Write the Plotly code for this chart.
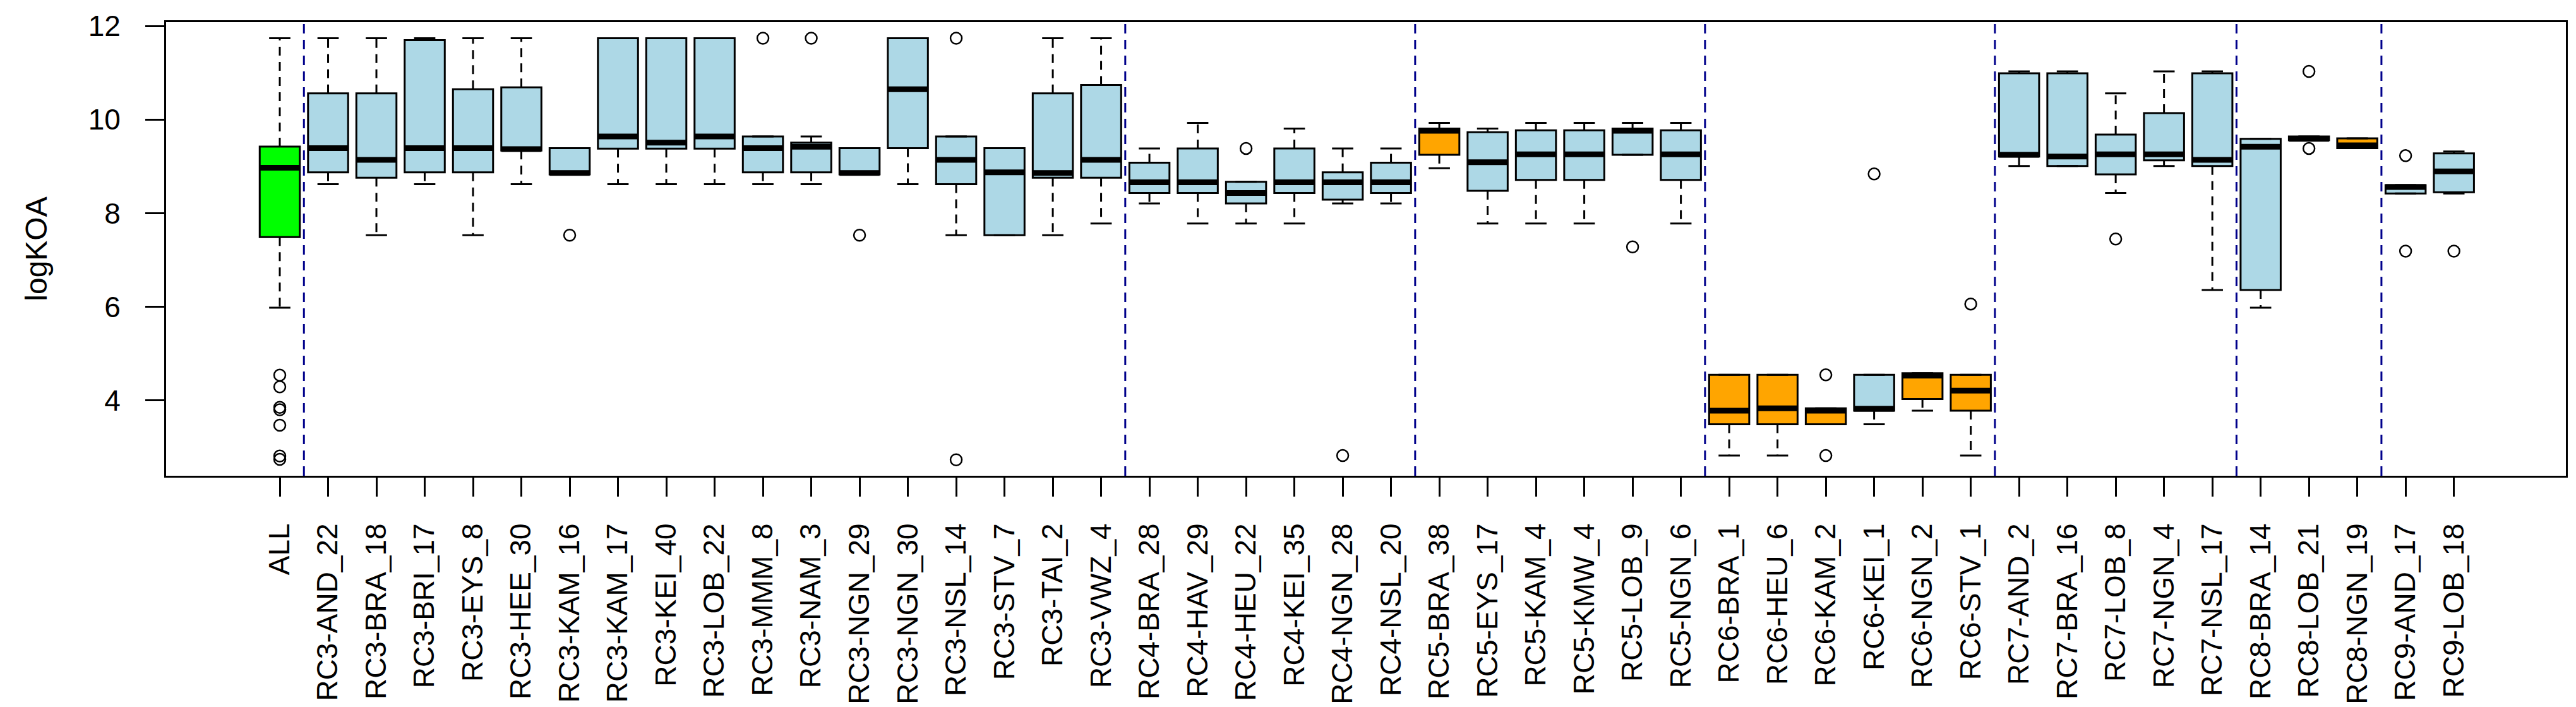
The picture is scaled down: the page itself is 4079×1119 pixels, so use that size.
import plotly.graph_objects as go

categories = ["ALL",
    "RC3-AND_22", "RC3-BRA_18", "RC3-BRI_17", "RC3-EYS_8", "RC3-HEE_30", "RC3-KAM_16",
    "RC3-KAM_17", "RC3-KEI_40", "RC3-LOB_22", "RC3-MMM_8", "RC3-NAM_3", "RC3-NGN_29",
    "RC3-NGN_30", "RC3-NSL_14", "RC3-STV_7", "RC3-TAI_2", "RC3-VWZ_4",
    "RC4-BRA_28", "RC4-HAV_29", "RC4-HEU_22", "RC4-KEI_35", "RC4-NGN_28", "RC4-NSL_20",
    "RC5-BRA_38", "RC5-EYS_17", "RC5-KAM_4", "RC5-KMW_4", "RC5-LOB_9", "RC5-NGN_6",
    "RC6-BRA_1", "RC6-HEU_6", "RC6-KAM_2", "RC6-KEI_1", "RC6-NGN_2", "RC6-STV_1",
    "RC7-AND_2", "RC7-BRA_16", "RC7-LOB_8", "RC7-NGN_4", "RC7-NSL_17",
    "RC8-BRA_14", "RC8-LOB_21", "RC8-NGN_19",
    "RC9-AND_17", "RC9-LOB_18"]

lower_whisker = [5.98,
    8.62, 7.53, 8.62, 7.53, 8.62, 8.83, 8.62, 8.62, 8.62, 8.62, 8.62, 8.83, 8.62, 7.53, 7.53, 7.53, 7.78,
    8.21, 7.78, 7.78, 7.78, 8.21, 8.21,
    8.96, 7.78, 7.78, 7.78, 9.25, 7.78,
    2.82, 2.82, 3.49, 3.49, 3.78, 2.82,
    9.01, 9.01, 8.43, 9.01, 6.36,
    5.98, 9.56, 9.39,
    8.42, 8.42]
q1 = [7.49,
    8.875, 8.76, 8.875, 8.875, 9.34, 8.83, 9.38, 9.38, 9.38, 8.875, 8.875, 8.83, 9.39, 8.62, 7.53, 8.76, 8.76,
    8.43, 8.43, 8.21, 8.43, 8.29, 8.43,
    9.25, 8.48, 8.71, 8.71, 9.25, 8.71,
    3.49, 3.49, 3.49, 3.78, 4.03, 3.78,
    9.21, 9.01, 8.83, 9.13, 9.01,
    6.36, 9.56, 9.39,
    8.42, 8.45]
median = [8.97,
    9.39, 9.14, 9.39, 9.39, 9.37, 8.86, 9.64, 9.51, 9.64, 9.39, 9.42, 8.86, 10.65, 9.14, 8.875, 8.86, 9.14,
    8.66, 8.66, 8.43, 8.66, 8.66, 8.66,
    9.76, 9.09, 9.26, 9.26, 9.76, 9.26,
    3.78, 3.83, 3.78, 3.82, 4.53, 4.21,
    9.25, 9.21, 9.26, 9.26, 9.14,
    9.42, 9.59, 9.45,
    8.56, 8.895]
q3 = [9.425,
    10.56, 10.56, 11.70, 10.65, 10.69, 9.39, 11.74, 11.74, 11.74, 9.64, 9.51, 9.39, 11.74, 9.64, 9.39, 10.56, 10.74,
    9.08, 9.385, 8.67, 9.385, 8.875, 9.08,
    9.81, 9.73, 9.77, 9.77, 9.81, 9.77,
    4.545, 4.545, 3.83, 4.545, 4.58, 4.545,
    10.99, 10.99, 9.68, 10.14, 10.99,
    9.59, 9.64, 9.60,
    8.60, 9.28]
upper_whisker = [11.74,
    11.74, 11.74, 11.74, 11.74, 11.74, 9.39, 11.74, 11.74, 11.74, 9.64, 9.64, 9.39, 11.74, 9.64, 9.39, 11.74, 11.74,
    9.385, 9.93, 8.67, 9.81, 9.385, 9.385,
    9.93, 9.81, 9.93, 9.93, 9.93, 9.93,
    4.545, 4.545, 3.83, 4.545, 4.58, 4.545,
    11.03, 11.03, 10.56, 11.03, 11.03,
    9.59, 9.64, 9.60,
    8.60, 9.32]
outliers = {
    "ALL": [4.54, 4.29, 3.85, 3.80, 3.47, 2.81, 2.74],
    "RC3-KAM_16": [7.53],
    "RC3-MMM_8": [11.74],
    "RC3-NAM_3": [11.74],
    "RC3-NGN_29": [7.53],
    "RC3-NSL_14": [11.74, 2.73],
    "RC4-HEU_22": [9.385],
    "RC4-NGN_28": [2.82],
    "RC5-LOB_9": [7.28],
    "RC6-KAM_2": [4.545, 2.82],
    "RC6-KEI_1": [8.84],
    "RC6-STV_1": [6.06],
    "RC7-LOB_8": [7.45],
    "RC8-LOB_21": [11.03, 9.385],
    "RC9-AND_17": [9.23, 7.19],
    "RC9-LOB_18": [7.19],
}
highlight_all = ["ALL"]
highlight_orange = ["RC5-BRA_38", "RC6-BRA_1", "RC6-HEU_6", "RC6-KAM_2", "RC6-NGN_2", "RC6-STV_1", "RC8-NGN_19"]
y_ticks = [4, 6, 8, 10, 12]

FONT = "Liberation Sans, Arial, Helvetica, sans-serif"
BOXW = 0.83
CAPW = 0.44
positions = list(range(1, len(categories) + 1))

def color_of(c):
    if c in highlight_all:
        return "#00FF00"
    if c in highlight_orange:
        return "#FFA500"
    return "#ADD8E6"

fig = go.Figure()

# boxes per fill color
for col in ["#00FF00", "#ADD8E6", "#FFA500"]:
    idx = [i for i, c in enumerate(categories) if color_of(c) == col]
    fig.add_trace(go.Box(
        x=[positions[i] for i in idx],
        q1=[q1[i] for i in idx], median=[median[i] for i in idx], q3=[q3[i] for i in idx],
        lowerfence=[q1[i] for i in idx], upperfence=[q3[i] for i in idx],
        width=BOXW, whiskerwidth=0, boxpoints=False,
        fillcolor=col, line=dict(color="black", width=3),
        showlegend=False, hoverinfo="skip"))

# whiskers (dashed)
wx, wy = [], []
for p, lo, a, b, hi in zip(positions, lower_whisker, q1, q3, upper_whisker):
    if hi > b:
        wx += [p, p, None]; wy += [b, hi, None]
    if lo < a:
        wx += [p, p, None]; wy += [a, lo, None]
fig.add_trace(go.Scatter(x=wx, y=wy, mode="lines",
    line=dict(color="black", width=3, dash="14px,10px"), showlegend=False, hoverinfo="skip"))

# staples
sx, sy = [], []
for p, lo, hi in zip(positions, lower_whisker, upper_whisker):
    for v in (lo, hi):
        sx += [p - CAPW / 2, p + CAPW / 2, None]; sy += [v, v, None]
fig.add_trace(go.Scatter(x=sx, y=sy, mode="lines",
    line=dict(color="black", width=3), showlegend=False, hoverinfo="skip"))

# medians (thick)
mx, my = [], []
for p, m in zip(positions, median):
    mx += [p - BOXW / 2, p + BOXW / 2, None]; my += [m, m, None]
fig.add_trace(go.Scatter(x=mx, y=my, mode="lines",
    line=dict(color="black", width=9), showlegend=False, hoverinfo="skip"))

# outliers
ox, oy = [], []
for c, vals in outliers.items():
    p = positions[categories.index(c)]
    for v in vals:
        ox.append(p); oy.append(v)
fig.add_trace(go.Scatter(x=ox, y=oy, mode="markers",
    marker=dict(symbol="circle-open", size=18, color="black", line=dict(width=2.5)),
    showlegend=False, hoverinfo="skip"))

# group separators
for i in range(1, len(categories)):
    if categories[i].split("-")[0] != categories[i - 1].split("-")[0]:
        fig.add_shape(type="line", xref="x", yref="paper",
                      x0=positions[i] - 0.5, x1=positions[i] - 0.5, y0=0, y1=1,
                      line=dict(color="#00008B", width=3, dash="15px,10px"))

fig.update_layout(
    width=4079, height=1119,
    margin=dict(l=255, r=24, t=27, b=364),
    paper_bgcolor="white", plot_bgcolor="white",
    font=dict(family=FONT, size=46, color="black"),
    boxmode="overlay",
)
fig.update_xaxes(
    range=[-1.353, 48.318], tickmode="array", tickvals=positions, ticktext=categories,
    tickangle=-90, ticks="outside", ticklen=30, tickwidth=3, tickcolor="black",
    showline=True, linewidth=3, linecolor="black", mirror=True,
    showgrid=False, zeroline=False, tickfont=dict(size=46), ticklabelstandoff=24,
)
fig.update_yaxes(
    range=[2.389, 12.084], tickmode="array", tickvals=y_ticks, ticktext=[str(t) for t in y_ticks],
    ticks="outside", ticklen=30, tickwidth=3, tickcolor="black",
    showline=True, linewidth=3, linecolor="black", mirror=True,
    showgrid=False, zeroline=False, tickfont=dict(size=46), ticklabelstandoff=30,
    title=dict(text="logKOA", font=dict(size=48), standoff=50), automargin=False,
)
fig.write_html("out.html")
